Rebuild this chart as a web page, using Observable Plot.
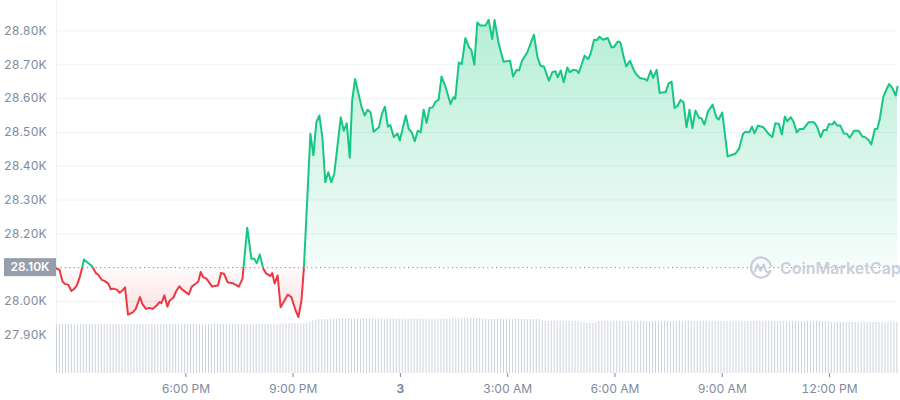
<!DOCTYPE html>
<html><head><meta charset="utf-8">
<script src="https://cdn.jsdelivr.net/npm/d3@7"></script>
<script src="https://cdn.jsdelivr.net/npm/@observablehq/plot@0.6"></script>
<style>
html,body{margin:0;padding:0;background:#fff;}
#wrap{position:relative;width:900px;height:400px;font-family:Inter,sans-serif;}
#wrap svg{position:absolute;left:0;top:0;}
#wm{position:absolute;left:749px;top:256px;height:24px;display:flex;align-items:center;gap:7px;color:#c9cfda;font:600 16px Inter,sans-serif;pointer-events:none;}
</style></head><body>
<div id="wrap"></div>
<script>
// ---- data ----
const startTime = "2023-04-02T14:23:00Z";
const baseline = 28100;
const baselineLabel = "28.10K";
const yDomain = [27787, 28890];
const minutes = [0,5,10,14,20,25,29,34,39,42,46,53,60,63,66,70,76,81,87,91,95,101,106,111,115,120,128,133,140,144,150,156,161,168,173,176,181,186,190,196,201,206,211,218,222,227,234,238,242,246,252,261,271,276,281,287,297,306,312,320,327,332,336,341,347,352,359,362,366,371,376,388,394,401,406,411,415,426,431,436,441,446,451,456,461,466,477,482,487,492,496,501,512,517,522,527,532,541,546,551,556,560,566,572,576,586,591,596,601,606,611,616,621,626,631,636,641,646,653,661,666,669,675,680,686,692,696,701,706,711,720,725,731,735,742,750,761,766,772,776,781,790,801,807,812,818,826,832,837,841,846,851,857,861,867,873,876,881,886,892,896,902,907,911,917,925,931,935,942,946,952,956,962,968,973,979,987,991,997,1001,1007,1012,1018,1022,1027,1032,1037,1042,1047,1052,1057,1062,1067,1072,1078,1082,1087,1093,1101,1107,1111,1117,1126,1134,1139,1145,1152,1156,1162,1167,1171,1177,1186,1194,1201,1206,1212,1217,1222,1226,1232,1237,1242,1247,1253,1262,1271,1276,1282,1287,1292,1296,1302,1305,1310,1315,1321,1326,1331,1338,1346,1352,1357,1363,1367,1373,1377,1381,1387,1393,1397,1402,1408,1411];
const prices = [28097,28094,28059,28052,28049,28031,28036,28047,28072,28092,
28124,28114,28104,28094,28084,28079,28064,28060,28053,28036,
28038,28035,28026,28033,28042,27961,27968,27978,28013,27993,
27978,27981,27978,27988,27998,27995,28018,27985,28003,28011,
28031,28045,28035,28026,28021,28044,28053,28059,28087,28072,
28067,28044,28047,28084,28082,28057,28053,28044,28067,28218,
28126,28126,28113,28139,28097,28082,28075,28084,28053,28077,
27983,28020,28013,27974,27954,28003,28097,28496,28432,28530,
28550,28486,28353,28382,28353,28377,28545,28505,28527,28425,
28594,28658,28574,28550,28567,28559,28502,28515,28555,28576,
28517,28522,28486,28497,28476,28550,28510,28500,28474,28505,
28500,28567,28528,28572,28574,28591,28596,28665,28633,28584,
28604,28599,28707,28702,28779,28752,28744,28700,28825,28816,
28816,28833,28776,28832,28762,28709,28712,28665,28685,28683,
28712,28737,28789,28722,28697,28694,28653,28678,28681,28663,
28683,28648,28692,28678,28685,28683,28675,28700,28727,28717,
28732,28774,28773,28783,28774,28779,28752,28752,28769,28766,
28720,28695,28712,28686,28671,28661,28658,28653,28683,28661,
28685,28616,28619,28619,28645,28650,28572,28579,28596,28589,
28515,28567,28513,28565,28543,28542,28523,28562,28582,28545,
28538,28559,28429,28434,28437,28451,28496,28502,28500,28517,
28497,28520,28515,28497,28486,28527,28525,28494,28547,28533,
28545,28530,28500,28510,28510,28530,28530,28517,28486,28507,
28507,28525,28523,28532,28520,28520,28497,28496,28484,28505,
28505,28488,28486,28476,28464,28510,28510,28537,28604,28629,
28643,28632,28609,28635];
// 24h volume (billions USD), one bar every 5 minutes
const volumeStepMinutes = 5;
const volumes = [
16.3,16.3,16.3,16.3,16.3,16.3,16.3,16.3,16.3,16.3,16.3,16.3,16.3,16.3,16.3,16.3,16.3,16.3,16.3,16.3,
16.3,16.3,16.3,16.4,16.3,16.3,16.3,16.3,16.3,16.3,16.3,16.3,16.4,16.3,16.3,16.3,16.3,16.3,16.3,16.3,
16.3,16.3,16.4,16.4,16.3,16.3,16.3,16.3,16.4,16.3,16.3,16.3,16.3,16.4,16.4,16.3,16.3,16.3,16.3,16.4,
16.4,16.3,16.3,16.4,16.4,16.4,16.3,16.3,16.4,16.4,16.4,16.4,16.4,16.4,16.4,16.4,
16.5,16.5,16.6,16.6,16.6,16.6,16.6,16.6,16.7,
17.0,17.5,
17.8,17.9,17.9,17.9,18.0,18.0,
18.1,18.1,18.1,18.2,18.1,18.1,18.1,18.1,18.1,18.1,
18.1,18.1,18.1,18.1,18.1,18.1,18.1,18.1,18.1,18.1,
18.1,18.1,18.1,18.1,18.1,18.1,18.1,18.1,18.1,18.1,
18.1,18.1,18.1,18.1,18.1,18.1,18.1,18.1,18.1,18.1,
18.2,18.2,18.2,18.2,18.3,
18.4,18.4,18.5,18.4,18.4,
18.1,18.0,18.0,18.0,18.0,18.0,18.0,18.0,18.0,18.0,18.0,18.0,18.0,18.0,18.0,18.0,18.0,18.0,18.0,18.0,
17.5,17.4,17.4,17.4,17.4,17.4,17.4,17.4,17.4,17.4,17.4,17.4,17.3,
16.9,16.9,16.8,16.8,16.8,16.9,
17.3,17.3,17.3,17.3,17.3,17.3,17.3,17.3,17.3,17.3,
17.3,17.3,17.3,17.3,17.3,17.3,17.3,17.3,17.3,17.3,
17.3,17.3,17.3,17.3,17.3,17.3,17.3,17.3,17.3,17.3,
17.3,17.3,17.3,17.3,17.3,17.3,17.2,17.3,17.3,17.3,
17.3,17.3,17.3,17.3,17.3,17.3,17.3,17.3,17.2,17.3,
17.3,17.3,17.3,17.3,17.3,17.3,17.3,17.3,17.3,17.3,
17.3,17.3,17.3,17.3,17.3,17.3,17.3,17.3,17.3,17.3,
17.3,17.3,17.3,17.3,17.3,17.3,17.3,17.3,
17.0,17.0,17.0,17.0,17.0,17.0,17.0,17.0,17.0,17.0,17.0,17.0,
17.0,17.0,17.0,17.0,17.0,17.0,17.0,17.0,17.0,17.0,17.0];
const yTicks = [27900, 28000, 28200, 28300, 28400, 28500, 28600, 28700, 28800];
const yTickLabels = ["27.90K","28.00K","28.20K","28.30K","28.40K","28.50K","28.60K","28.70K","28.80K"];
const gridTicks = [28000, 28200, 28300, 28400, 28500, 28600, 28700, 28800];
const xTickTimes = ["2023-04-02T18:00:00Z","2023-04-02T21:00:00Z","2023-04-03T03:00:00Z","2023-04-03T06:00:00Z","2023-04-03T09:00:00Z","2023-04-03T12:00:00Z"];
const xTickLabels = ["6:00 PM","9:00 PM","3:00 AM","6:00 AM","9:00 AM","12:00 PM"];
const dayTickTimes = ["2023-04-03T00:00:00Z"];
const dayTickLabels = ["3"];

// ---- build ----
const t0 = new Date(startTime).getTime();
const data = minutes.map((m, i) => ({t: new Date(t0 + m * 60000), v: prices[i]}));
const vol = volumes.map((v, i) => ({t: new Date(t0 + i * volumeStepMinutes * 60000), v}));
const xDomain = [new Date(t0), new Date(t0 + minutes[minutes.length - 1] * 60000)];
const xTicks = xTickTimes.map(s => new Date(s));
const dayTicks = dayTickTimes.map(s => new Date(s));

const common = {
  width: 900, height: 400, marginLeft: 56, marginRight: 3, marginBottom: 27,
  style: {fontFamily: "Inter, sans-serif", fontSize: "12px", background: "transparent"}
};

const chart = Plot.plot({
  ...common,
  marginTop: 0,
  x: {type: "utc", domain: xDomain, axis: null},
  y: {domain: yDomain, axis: null},
  marks: [
    Plot.ruleX([xDomain[0]], {stroke: "#eff2f5"}),
    Plot.gridY(gridTicks, {stroke: "#eff2f5", strokeOpacity: 1}),
    Plot.areaY(data, {x: "t", y1: () => baseline, y2: "v", fill: "url(#cmcFill)"}),
    Plot.ruleY([baseline], {stroke: "#7d879b", strokeDasharray: "1.2,3.2"}),
    Plot.line(data, {x: "t", y: "v", stroke: "url(#cmcStroke)", strokeWidth: 2, strokeLinejoin: "round"}),
    Plot.axisY(yTicks, {anchor: "left", tickSize: 0, tickPadding: 10, label: null, color: "#808a9d",
      tickFormat: d => yTickLabels[yTicks.indexOf(d)]}),
    Plot.axisX(xTicks, {anchor: "bottom", tickSize: 4, tickPadding: 7, label: null, color: "#808a9d",
      tickFormat: d => xTickLabels[xTicks.findIndex(e => +e === +d)]}),
    Plot.axisX(dayTicks, {anchor: "bottom", tickSize: 4, tickPadding: 7, label: null, color: "#808a9d", fontWeight: 700,
      tickFormat: d => dayTickLabels[dayTicks.findIndex(e => +e === +d)]})
  ]
});

const volChart = Plot.plot({
  ...common,
  marginTop: 313,
  x: {type: "utc", domain: xDomain, axis: null},
  y: {domain: [0, 20], axis: null},
  marks: [
    Plot.ruleX(vol, {x: "t", y1: 0, y2: "v", stroke: "#cdd3dc", strokeWidth: 1})
  ]
});

const yb = chart.scale("y").apply(baseline);
const off = yb / 400;
const svg = d3.select(chart);
svg.insert("defs", ":first-child").html(`
  <linearGradient id="cmcStroke" gradientUnits="userSpaceOnUse" x1="0" y1="0" x2="0" y2="400">
    <stop offset="${off}" stop-color="#16c784"/>
    <stop offset="${off}" stop-color="#ea3943"/>
  </linearGradient>
  <linearGradient id="cmcFill" gradientUnits="userSpaceOnUse" x1="0" y1="0" x2="0" y2="400">
    <stop offset="0.04" stop-color="#16c784" stop-opacity="0.32"/>
    <stop offset="${off}" stop-color="#16c784" stop-opacity="0.04"/>
    <stop offset="${off}" stop-color="#ea3943" stop-opacity="0.02"/>
    <stop offset="0.8" stop-color="#ea3943" stop-opacity="0.17"/>
  </linearGradient>`);
const lab = svg.append("g");
lab.append("rect").attr("x", 4).attr("y", yb - 9).attr("width", 52).attr("height", 18).attr("fill", "#979eab");
lab.append("text").attr("x", 30).attr("y", yb).attr("dy", "0.36em").attr("text-anchor", "middle")
  .attr("fill", "#fff").attr("font-weight", 600).attr("font-size", 12).text(baselineLabel);

const wrap = document.getElementById("wrap");
wrap.appendChild(chart);
wrap.appendChild(volChart);
const wm = document.createElement("div");
wm.id = "wm";
wm.innerHTML = `<svg width="24" height="24" viewBox="0 0 24 24" style="position:static">
  <path d="M21.3 15.2 A10 10 0 1 1 21.9 10.2" fill="none" stroke="#c9cfda" stroke-width="2.2" stroke-linecap="round"/>
  <path d="M5.6 15.6 L8.6 8.6 L11.6 14.8 L14.6 8.6 L16.8 14.6 Q18.4 17.2 21.3 15.2" fill="none" stroke="#c9cfda" stroke-width="2.2" stroke-linecap="round" stroke-linejoin="round"/>
</svg><span>CoinMarketCap</span>`;
wrap.appendChild(wm);
</script>
</body></html>
